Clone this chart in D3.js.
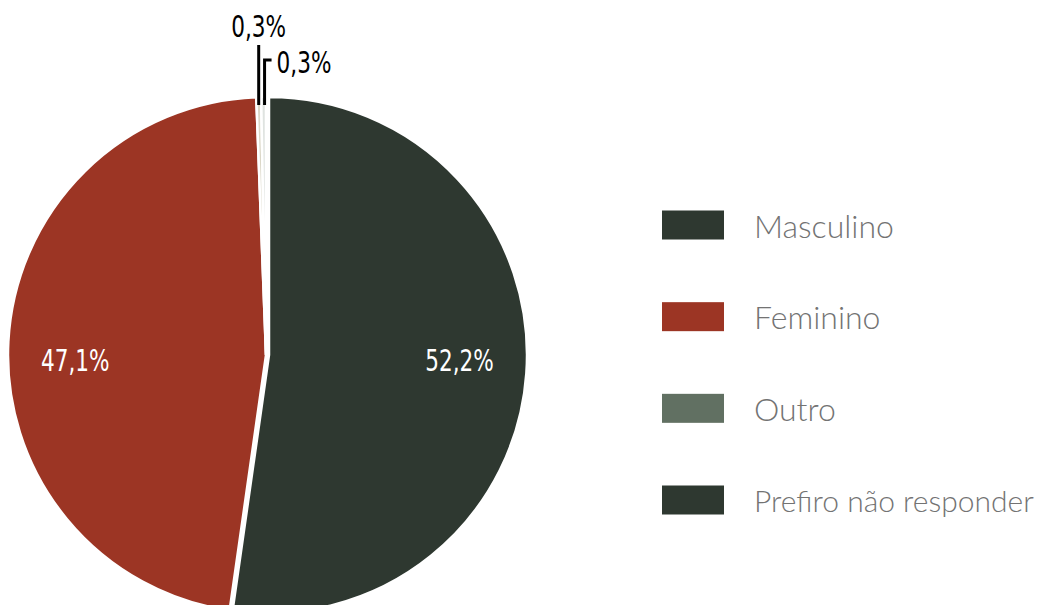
<!DOCTYPE html>
<html>
<head>
<meta charset="utf-8">
<script src="https://cdn.jsdelivr.net/npm/d3@7"></script>
<style>
  body { margin: 0; background: #fff; }
  .pct { font-family: "Liberation Sans Narrow", "DejaVu Sans Condensed", sans-serif; font-stretch: condensed; font-size: 30px; }
  .leg { font-family: Lato, "Open Sans", sans-serif; font-weight: 300; font-size: 32px; fill: #737373; }
</style>
</head>
<body>
<script>
// categories and values (percent)
var categories = ["Masculino", "Feminino", "Outro", "Prefiro não responder"];
var values = [52.2, 47.1, 0.3, 0.3];
var labels = ["52,2%", "47,1%", "0,3%", "0,3%"];
var sliceColors = ["#2e3830", "#9c3524", "#dbd7c7", "#dfe3e0"];
var legendColors = ["#2e3830", "#9c3524", "#617062", "#2e3830"];

var width = 1043,
    height = 605;

var svg = d3.select("body")
    .append("svg")
    .attr("width", width)
    .attr("height", height);

var cx = 266, cy = 355, radius = 258;

var pie = d3.pie().sort(null).value(function(d){ return d; });
var arcs = pie(values);

var arc = d3.arc().innerRadius(0).outerRadius(radius);
var labelArc = d3.arc().innerRadius(191).outerRadius(191);

var g = svg.append("g")
    .attr("transform", "translate(" + cx + "," + cy + ")");

// squeeze the condensed labels a bit (narrow font is missing)
function squeeze(sel){
    sel.each(function(){
        var w = this.getComputedTextLength();
        d3.select(this)
            .attr("textLength", w * 0.8)
            .attr("lengthAdjust", "spacingAndGlyphs");
    });
}

// slices, the first one pulled out a little
g.selectAll(".slice")
    .data(arcs)
    .enter()
    .append("path")
    .attr("class", "slice")
    .attr("d", arc)
    .attr("fill", function(d, i){ return sliceColors[i]; })
    .attr("stroke", "#fff")
    .attr("stroke-width", 2.5)
    .attr("transform", function(d, i){ return i == 0 ? "translate(3,0)" : null; });

// big labels inside
g.selectAll(".inlab")
    .data(arcs.slice(0, 2))
    .enter()
    .append("text")
    .attr("class", "pct")
    .attr("x", function(d, i){ return labelArc.centroid(d)[0] + (i == 0 ? 3 : 0); })
    .attr("y", 7)
    .attr("text-anchor", "middle")
    .attr("dominant-baseline", "middle")
    .attr("fill", "#fff")
    .text(function(d, i){ return labels[i]; })
    .call(squeeze);

// small slices: leader lines going up
var lineTop = [-310, -295];
var small = arcs.slice(2);
small.forEach(function(d, k){
    var a = (d.startAngle + d.endAngle) / 2;
    var x = radius * Math.sin(a) + k;   // spread the two lines a touch
    var y0 = -radius + 8;
    var pts = [[x, y0], [x, lineTop[k]]];
    if (k == 1) pts.push([x + 7, lineTop[k]]);
    g.append("path")
        .attr("d", d3.line()(pts))
        .attr("fill", "none")
        .attr("stroke", "#000")
        .attr("stroke-width", 3);
    g.append("text")
        .attr("class", "pct")
        .attr("x", k == 0 ? x : x + 12)
        .attr("y", k == 0 ? lineTop[k] - 8 : lineTop[k] + 13)
        .attr("text-anchor", k == 0 ? "middle" : "start")
        .attr("fill", "#000")
        .text(labels[k + 2])
        .call(squeeze);
});

// legend
var legY = d3.scalePoint().domain(categories).range([225, 500]);

var leg = svg.selectAll(".legitem")
    .data(categories)
    .enter()
    .append("g")
    .attr("class", "legitem")
    .attr("transform", function(d){ return "translate(662," + legY(d) + ")"; });

leg.append("rect")
    .attr("y", -14.5)
    .attr("width", 62)
    .attr("height", 29)
    .attr("fill", function(d, i){ return legendColors[i]; });

leg.append("text")
    .attr("class", "leg")
    .attr("x", 92)
    .attr("y", 0)
    .attr("dominant-baseline", "central")
    .text(function(d){ return d; })
    .each(function(){
        // keep long entries inside the page: shrink the font
        var room = width - 662 - 92 - 8;
        var w = this.getComputedTextLength();
        if (w > room) {
            d3.select(this).style("font-size", Math.floor(32 * room / w) + "px");
        }
    });
</script>
</body>
</html>
